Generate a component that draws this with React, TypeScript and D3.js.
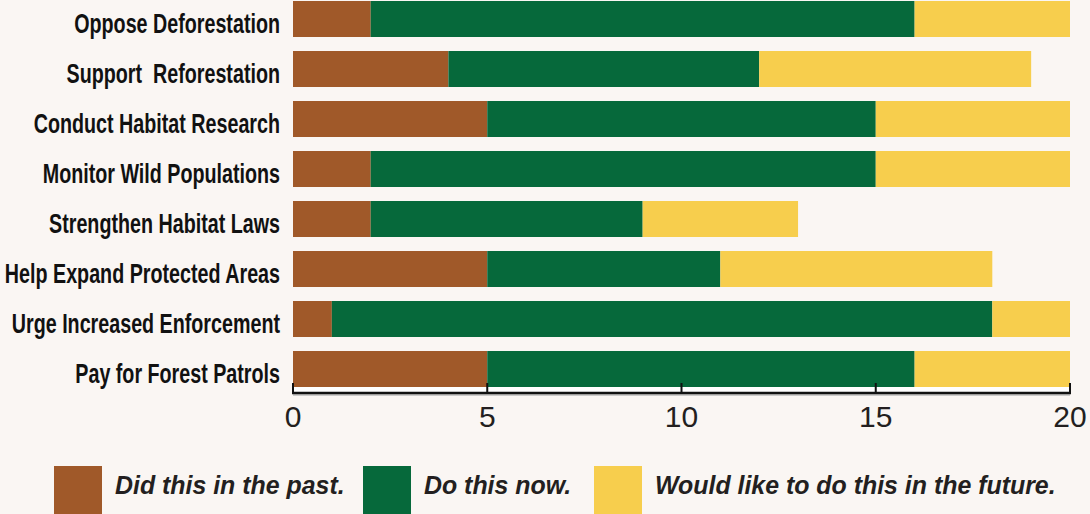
import React from "react";
import * as d3 from "d3";

const categories = [
  "Oppose Deforestation",
  "Support  Reforestation",
  "Conduct Habitat Research",
  "Monitor Wild Populations",
  "Strengthen Habitat Laws",
  "Help Expand Protected Areas",
  "Urge Increased Enforcement",
  "Pay for Forest Patrols",
];
const past = [2, 4, 5, 2, 2, 5, 1, 5];
const now = [14, 8, 10, 13, 7, 6, 17, 11];
const future = [4, 7, 5, 5, 4, 7, 2, 4];
const seriesNames = ["Did this in the past.", "Do this now.", "Would like to do this in the future."];
const colors = ["#a05929", "#06693b", "#f7ce4d"];
const xTicks = [0, 5, 10, 15, 20];

const W = 1090;
const H = 514;
const BG = "#faf6f3";

export default function App() {
  React.useEffect(() => {
    document.body.style.margin = "0";
    document.body.style.background = BG;
  }, []);

  const x = d3.scaleLinear().domain([0, 20]).range([293, 1070]);
  const y = d3
    .scaleBand<string>()
    .domain(categories)
    .range([-6, 394])
    .paddingInner(0.28)
    .paddingOuter(0.14);

  const rows = categories.map((c, i) => ({ c, vals: [past[i], now[i], future[i]] }));
  const stack = rows.map((r) => {
    let acc = 0;
    return r.vals.map((v, k) => {
      const s = { x0: acc, x1: acc + v, k };
      acc += v;
      return s;
    });
  });

  const axisY = 393;
  const lastBottom = (y(categories[categories.length - 1]) ?? 0) + y.bandwidth();

  const legendX = [54, 363, 594];

  return (
    <svg width={W} height={H} style={{ position: "absolute", left: 0, top: 0, background: BG }}>
      <rect x={0} y={0} width={W} height={H} fill={BG} />
      <rect x={x(0)} y={lastBottom} width={x(20) - x(0)} height={axisY - lastBottom} fill="#ffffff" />
      {rows.map((r, i) => (
        <g key={r.c}>
          {stack[i].map((s) => (
            <rect
              key={s.k}
              x={x(s.x0)}
              y={y(r.c)}
              width={x(s.x1) - x(s.x0)}
              height={y.bandwidth()}
              fill={colors[s.k]}
            />
          ))}
          <text
            transform={`translate(280,${(y(r.c) ?? 0) + 32}) scale(0.73,1)`}
            textAnchor="end"
            fontFamily="'Liberation Sans', Arial, sans-serif"
            fontWeight="bold"
            fontSize={27}
            fill="#111"
            style={{ whiteSpace: "pre" }}
          >
            {r.c}
          </text>
        </g>
      ))}
      <line x1={x(0)} x2={x(20)} y1={axisY + 2} y2={axisY + 2} stroke="#bbb" strokeWidth={1.5} />
      <line x1={x(0) - 1} x2={x(20) + 1} y1={axisY} y2={axisY} stroke="#111" strokeWidth={2.5} />
      {xTicks.map((t) => (
        <g key={t}>
          <line x1={x(t)} x2={x(t)} y1={axisY - 10} y2={axisY} stroke="#111" strokeWidth={2} />
          <text
            x={x(t)}
            y={427}
            textAnchor="middle"
            fontFamily="'Liberation Sans', Arial, sans-serif"
            fontSize={30}
            fill="#231f20"
          >
            {t}
          </text>
        </g>
      ))}
      {seriesNames.map((n, k) => (
        <g key={n}>
          <rect x={legendX[k]} y={466} width={48} height={48} fill={colors[k]} />
          <text
            transform={`translate(${legendX[k] + 61},494) scale(0.94,1)`}
            fontFamily="'Liberation Sans', Arial, sans-serif"
            fontWeight="bold"
            fontStyle="italic"
            fontSize={26.5}
            fill="#231f20"
          >
            {n}
          </text>
        </g>
      ))}
    </svg>
  );
}
